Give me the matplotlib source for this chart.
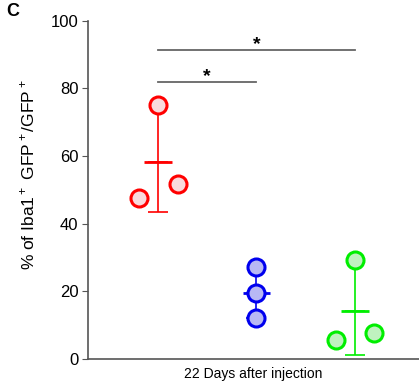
import numpy as np
import matplotlib
matplotlib.use("Agg")
import matplotlib.pyplot as plt

plt.rcParams["font.family"] = ["Liberation Sans", "DejaVu Sans"]
plt.rcParams["mathtext.fontset"] = "custom"
plt.rcParams["mathtext.rm"] = "Liberation Sans"

# data
groups = ["red", "blue", "green"]
pos = [1, 2, 3]
vals_red = [75.0, 47.6, 51.8]
vals_blue = [27.2, 19.5, 12.1]
vals_green = [29.3, 5.6, 7.7]
jitter_red = [0.0, -0.19, 0.20]
jitter_blue = [0.0, 0.0, 0.0]
jitter_green = [0.0, -0.19, 0.19]
edge_cols = ["#ff0000", "#0000ee", "#00ee00"]
face_cols = ["#f9dadd", "#b8b8f4", "#bff2bf"]
sig_pairs = [(1, 2, 82.0), (1, 3, 91.4)]
yticks = [0, 20, 40, 60, 80, 100]

fig = plt.figure(figsize=(4.19, 3.86), dpi=100)
ax = fig.add_axes([0.21, 0.07, 0.79, 0.876])

all_vals = [vals_red, vals_blue, vals_green]
all_jit = [jitter_red, jitter_blue, jitter_green]
for x, v, j, ec, fc in zip(pos, all_vals, all_jit, edge_cols, face_cols):
    v = np.array(v)
    m = v.mean()
    sd = v.std(ddof=1)
    # mean - SD with cap, upper part without cap (hidden under the top dot)
    ax.errorbar(x, m, yerr=[[sd], [0]], color=ec, lw=1.2, capsize=7, capthick=1.2, zorder=2)
    ax.vlines(x, m, m + sd, color=ec, lw=1.2, zorder=2)
    ax.plot([x - 0.14, x + 0.14], [m, m], color=ec, lw=2, solid_capstyle="butt", zorder=2)
    ax.scatter(np.array(j) + x, v, s=150, facecolor=fc, edgecolor=ec, linewidth=2.2, zorder=3)

for a, b, y in sig_pairs:
    ax.plot([a, b], [y, y], color="#666666", lw=1.3, clip_on=False)
    ax.text((a + b) / 2, y - 1.0, "*", ha="center", va="bottom", fontsize=14, fontweight="bold")

ax.set_xlim(0.29, 3.65)
ax.set_ylim(0, 100)
ax.set_yticks(yticks)
ax.set_xticks([])
ax.tick_params(axis="y", labelsize=12, length=4, color="#555555", pad=3)
for s in ["top", "right"]:
    ax.spines[s].set_visible(False)
for s in ["left", "bottom"]:
    ax.spines[s].set_color("#555555")
    ax.spines[s].set_linewidth(1.2)

ax.set_ylabel(r"% of Iba1$^+$ GFP$^+$/GFP$^+$", fontsize=12.5, va="center")
ax.yaxis.set_label_coords(-0.18, 0.545)
ax.set_xlabel("22 Days after injection", fontsize=10, labelpad=6)
fig.text(0.015, 0.97, "C", fontsize=13, fontweight="bold", ha="left", va="center")

fig.savefig("out.png", dpi=100)
